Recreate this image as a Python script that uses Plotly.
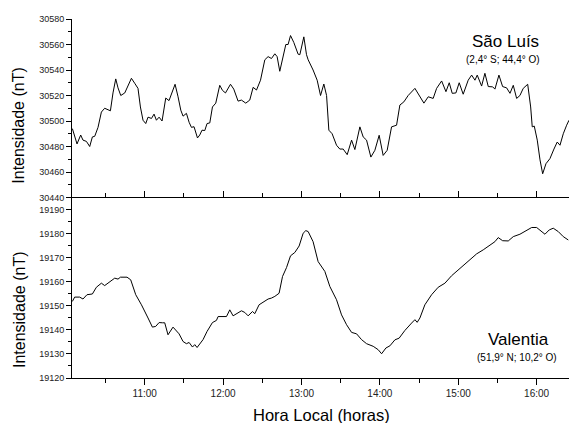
import plotly.graph_objects as go

# Time in decimal hours (local time)
sl_time = [10.077, 10.136, 10.183, 10.212, 10.256, 10.298, 10.332, 10.362, 10.404, 10.447,
           10.489, 10.531, 10.562, 10.595, 10.630, 10.659, 10.694, 10.745, 10.787, 10.830,
           10.872, 10.914, 10.945, 10.978, 11.013, 11.042, 11.086, 11.119, 11.149, 11.183,
           11.221, 11.268, 11.310, 11.354, 11.387, 11.425, 11.460, 11.489, 11.532, 11.566,
           11.596, 11.629, 11.673, 11.702, 11.731, 11.766, 11.795, 11.830, 11.864, 11.906,
           11.957, 11.992, 12.030, 12.094, 12.136, 12.191, 12.234, 12.289, 12.340, 12.383,
           12.426, 12.477, 12.532, 12.574, 12.617, 12.660, 12.689, 12.723, 12.766, 12.800,
           12.829, 12.860, 12.902, 12.957, 12.979, 13.030, 13.064, 13.085, 13.148, 13.200,
           13.243, 13.285, 13.320, 13.349, 13.391, 13.447, 13.489, 13.532, 13.583, 13.639,
           13.681, 13.745, 13.787, 13.830, 13.885, 13.936, 13.991, 14.042, 14.093, 14.149,
           14.213, 14.255, 14.306, 14.361, 14.447, 14.502, 14.562, 14.617, 14.680, 14.724,
           14.788, 14.843, 14.885, 14.923, 14.970, 15.012, 15.063, 15.127, 15.171, 15.213,
           15.242, 15.298, 15.340, 15.383, 15.439, 15.468, 15.519, 15.566, 15.617, 15.660,
           15.702, 15.745, 15.787, 15.829, 15.886, 15.924, 15.944, 15.970, 16.008, 16.043,
           16.077, 16.119, 16.170, 16.221, 16.263, 16.298, 16.340, 16.383, 16.413]
sl_value = [30494, 30482, 30489, 30485, 30484, 30480, 30487.5, 30488, 30495, 30507,
            30510, 30509, 30508, 30522, 30533, 30526, 30520, 30522, 30528, 30533.5,
            30529.6, 30525.6, 30511, 30500.6, 30498, 30503, 30502, 30505.4, 30500.6, 30503,
            30500, 30518, 30516, 30523, 30528.8, 30519, 30508.5, 30503.8, 30506, 30499,
            30495, 30495.5, 30486.7, 30489, 30492.8, 30492.5, 30498, 30498.5, 30511, 30514,
            30528, 30524, 30522, 30528.8, 30525, 30515.6, 30516.4, 30514, 30516.4, 30526.4,
            30524.3, 30532, 30548, 30550.5, 30549, 30552.7, 30550.5, 30539, 30550.5, 30560,
            30560, 30567, 30561.6, 30552.4, 30552, 30566, 30552, 30548, 30540, 30532,
            30520, 30529, 30520, 30492.8, 30490, 30481, 30478, 30478, 30473.6, 30485,
            30477.6, 30495.4, 30487.5, 30485, 30471.7, 30477, 30488.8, 30473, 30477, 30495.4,
            30496.7, 30512.5, 30515, 30520, 30525.6, 30520, 30514, 30519, 30517.7, 30525.6,
            30531.4, 30523, 30530, 30521.7, 30522, 30530, 30521, 30532, 30536, 30532,
            30536, 30527.4, 30537.4, 30527, 30526.8, 30525, 30536, 30527, 30526, 30521.7,
            30528, 30517.7, 30520, 30525.6, 30528.8, 30511, 30495.4, 30496, 30485, 30469.5,
            30458.6, 30466.5, 30470.5, 30478, 30483.5, 30481, 30490, 30496.7, 30500.6]

va_time = [10.077, 10.106, 10.170, 10.212, 10.263, 10.332, 10.383, 10.447, 10.489, 10.553,
           10.617, 10.659, 10.690, 10.774, 10.821, 10.885, 10.958, 11.042, 11.098, 11.140,
           11.183, 11.226, 11.255, 11.297, 11.361, 11.438, 11.489, 11.532, 11.566, 11.609,
           11.638, 11.668, 11.744, 11.795, 11.864, 11.915, 11.936, 12.043, 12.085, 12.127,
           12.178, 12.234, 12.277, 12.319, 12.375, 12.404, 12.459, 12.510, 12.574, 12.617,
           12.660, 12.714, 12.758, 12.809, 12.860, 12.915, 12.970, 13.021, 13.055, 13.085,
           13.148, 13.212, 13.298, 13.362, 13.447, 13.511, 13.575, 13.639, 13.703, 13.766,
           13.830, 13.915, 13.978, 14.022, 14.077, 14.128, 14.192, 14.246, 14.319, 14.405,
           14.447, 14.476, 14.511, 14.574, 14.660, 14.744, 14.830, 14.915, 14.979, 15.063,
           15.149, 15.234, 15.319, 15.404, 15.468, 15.510, 15.566, 15.638, 15.702, 15.787,
           15.873, 15.937, 16.000, 16.043, 16.106, 16.161, 16.212, 16.276, 16.340, 16.404]
va_value = [19151.9, 19153.7, 19153.7, 19152.9, 19154.7, 19155, 19157.8, 19159.5, 19158.5, 19160.2,
            19161.6, 19161.2, 19162, 19162, 19160.9, 19154.7, 19150.5, 19145, 19141.2, 19141.5,
            19143.1, 19143, 19143, 19138, 19141.2, 19138.4, 19135.2, 19134.3, 19134.8, 19132.9,
            19133.9, 19132.7, 19136, 19139.4, 19143.1, 19144, 19145.6, 19145.6, 19148.4, 19145.9,
            19147, 19148, 19147.3, 19145.9, 19147.7, 19146.8, 19150.5, 19151.5, 19152.9, 19153.3,
            19154, 19155.3, 19162.3, 19166, 19170.9, 19172.3, 19175, 19180.3, 19181.4, 19181,
            19176.8, 19168.5, 19164.4, 19158.1, 19152.6, 19146.3, 19142.2, 19139, 19138.4, 19136,
            19134.3, 19133.2, 19131.8, 19130.1, 19132.5, 19133.4, 19135.9, 19136.6, 19139.8, 19142.9,
            19144.3, 19143.2, 19145, 19150.5, 19154.7, 19157.8, 19159.5, 19162.6, 19164.4, 19166.7,
            19169.2, 19171.7, 19173.4, 19175.4, 19176.8, 19178.5, 19177.2, 19177.1, 19178.9, 19179.9,
            19181.4, 19182.7, 19182.7, 19181.7, 19179.9, 19181.7, 19182.4, 19181, 19178.9, 19177.5]

x_tickvals = [11, 12, 13, 14, 15, 16]
x_ticktext = ["11:00", "12:00", "13:00", "14:00", "15:00", "16:00"]
x_minor = [10.5, 11.5, 12.5, 13.5, 14.5, 15.5]
sl_ticks = [30440, 30460, 30480, 30500, 30520, 30540, 30560, 30580]
va_ticks = [19120, 19130, 19140, 19150, 19160, 19170, 19180, 19190]

XR = [10.072, 16.413]
SLR = [30440, 30580]
VAR = [19120, 19195.2]
SPLIT = 0.5028
FONT = "Arial, Liberation Sans, sans-serif"
TICKC = "#222"

fig = go.Figure()
fig.add_trace(go.Scatter(x=sl_time, y=sl_value, mode="lines", xaxis="x2", yaxis="y2",
                         line=dict(color="black", width=1), showlegend=False, hoverinfo="skip"))
fig.add_trace(go.Scatter(x=va_time, y=va_value, mode="lines", xaxis="x", yaxis="y",
                         line=dict(color="black", width=1), showlegend=False, hoverinfo="skip"))

xcommon = dict(range=XR, tickmode="array", tickvals=x_tickvals, ticktext=x_ticktext,
               showline=True, linecolor="black", linewidth=1, showgrid=False, zeroline=False,
               ticklen=6, tickcolor="black", tickwidth=1,
               tickfont=dict(family=FONT, size=10, color=TICKC))

def xminor(direction):
    return dict(tickmode="array", tickvals=x_minor, ticks=direction, ticklen=4,
                tickcolor="black", tickwidth=1, showgrid=False)

def yminor(vals, direction):
    return dict(tickmode="array", tickvals=vals, ticks=direction, ticklen=3,
                tickcolor="black", tickwidth=1, showgrid=False)

sl_minor = [v + 10 for v in sl_ticks[:-1]]
va_minor = [v + 5 for v in va_ticks]

ycommon = dict(showline=True, linecolor="black", linewidth=1, showgrid=False, zeroline=False,
               ticklen=5, tickcolor="black", tickwidth=1,
               tickfont=dict(family=FONT, size=9, color=TICKC))

fig.update_layout(
    width=569, height=423,
    margin=dict(l=72, r=0, t=19, b=45),
    paper_bgcolor="white", plot_bgcolor="white",
    showlegend=False,
    # bottom panel (Valentia)
    xaxis=dict(**xcommon, anchor="y", side="bottom", ticks="outside",
               minor=xminor("outside")),
    xaxis4=dict(**xcommon, overlaying="x", anchor="y", side="top",
                ticks="inside", showticklabels=False, minor=xminor("inside")),
    yaxis=dict(**ycommon, range=VAR, domain=[0, SPLIT], anchor="x", tickmode="array",
               tickvals=va_ticks, ticktext=[str(v) for v in va_ticks], ticks="outside",
               minor=yminor(va_minor, "outside")),
    yaxis3=dict(**{**ycommon, "showline": False}, range=VAR, overlaying="y", side="right",
                anchor="x", tickmode="array", tickvals=va_ticks, ticks="inside",
                showticklabels=False, minor=yminor(va_minor, "inside")),
    # top panel (Sao Luis)
    xaxis2=dict(**xcommon, anchor="y2", side="bottom", ticks="inside", showticklabels=False,
                minor=xminor("inside")),
    xaxis3=dict(**xcommon, overlaying="x2", anchor="y2", side="top", ticks="inside",
                showticklabels=False, minor=xminor("inside")),
    yaxis2=dict(**ycommon, range=SLR, domain=[SPLIT, 1], anchor="x2", tickmode="array",
                tickvals=sl_ticks, ticktext=[str(v) for v in sl_ticks], ticks="outside",
                minor=yminor(sl_minor, "outside")),
    yaxis4=dict(**{**ycommon, "showline": False}, range=SLR, overlaying="y2", side="right",
                anchor="x2", tickmode="array", tickvals=sl_ticks, ticks="inside",
                showticklabels=False, minor=yminor(sl_minor, "inside")),
)

ann = [
    dict(text="Intensidade (nT)", x=-0.1066, y=0.7028, textangle=-90, size=16),
    dict(text="Intensidade (nT)", x=-0.1066, y=0.1894, textangle=-90, size=16),
    dict(text="Hora Local (horas)", x=0.5024, y=-0.103, textangle=0, size=16.5),
    dict(text="São Luís", x=0.8726, y=0.9368, textangle=0, size=17),
    dict(text="(2,4° S; 44,4° O)", x=0.8672, y=0.8858, textangle=0, size=10),
    dict(text="Valentia", x=0.8974, y=0.1086, textangle=0, size=17),
    dict(text="(51,9° N; 10,2° O)", x=0.8954, y=0.0565, textangle=0, size=10),
]
for a in ann:
    fig.add_annotation(text=a["text"], x=a["x"], y=a["y"], xref="paper", yref="paper",
                       xanchor="center", yanchor="middle", showarrow=False,
                       textangle=a["textangle"],
                       font=dict(family=FONT, size=a["size"], color="black"))

fig.write_html("out.html", config={"displayModeBar": False},
               post_script="document.body.style.margin='0';document.body.style.overflow='hidden';")
